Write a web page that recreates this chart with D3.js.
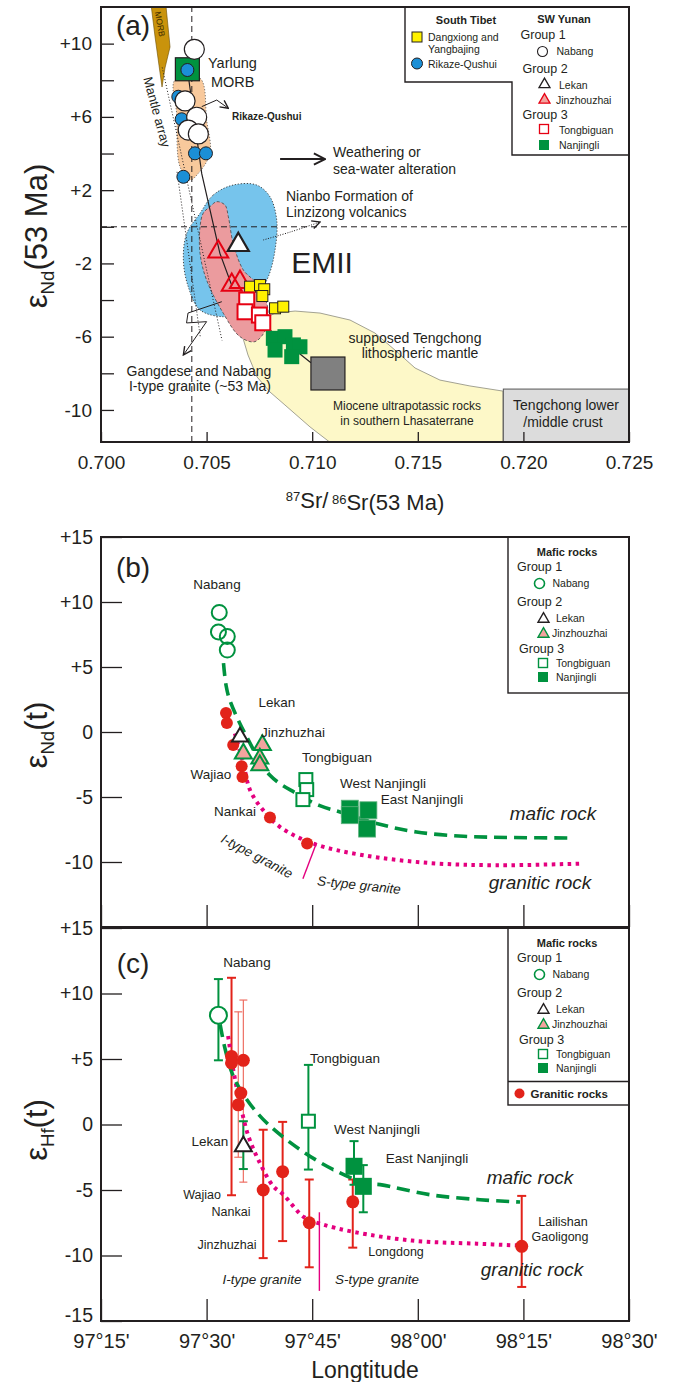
<!DOCTYPE html>
<html>
<head>
<meta charset="utf-8">
<script src="https://cdn.jsdelivr.net/npm/d3@7"></script>
<style>
  body { margin: 0; background: #fff; }
  svg { display: block; }
  text { font-family: "Liberation Sans", Arial, Helvetica, sans-serif; }
</style>
</head>
<body>
<svg id="chart"></svg>
<script>
// ================= Panel (a): eNd vs 87Sr/86Sr at 53 Ma =================
const srTicks = [0.700, 0.705, 0.710, 0.715, 0.720, 0.725];
const ndTicksA = [-10, -8, -6, -4, -2, 0, 2, 4, 6, 8, 10];
const ndLabelledA = [-10, -6, -2, 2, 6, 10];

// sample groups  [87Sr/86Sr, eNd]
const yarlungMorb = [[0.70409, 8.6]];
const rikazeQushui = [[0.70409, 8.56], [0.70366, 7.10], [0.70382, 5.87], [0.70445, 4.01], [0.70497, 4.01], [0.70390, 2.73]];
const nabangA = [[0.70442, 9.69], [0.70398, 6.87], [0.70453, 5.98], [0.70413, 5.28], [0.70461, 5.07]];
const jinzhouzhaiA = [[0.70555, -1.36], [0.70619, -3.18], [0.70658, -3.02]];
const lekanA = [[0.70650, -0.99]];
const dangxiongA = [[0.70706, -3.27], [0.70753, -3.18], [0.70773, -3.41], [0.70764, -3.78], [0.70824, -4.45], [0.70863, -4.36]];
const tongbiguanA = [[0.70690, -4.00], [0.70682, -4.64], [0.70750, -4.82], [0.70766, -5.24]];
const nanjingliA = [[0.70816, -6.09], [0.70871, -6.00], [0.70911, -6.45], [0.70942, -6.55], [0.70824, -6.73], [0.70903, -7.09]];

// reference fields  [87Sr/86Sr, eNd]
const morbField = [[0.70232, 12.6], [0.70303, 12.6], [0.70327, 9.82], [0.70303, 8.67], [0.70289, 7.63], [0.70279, 8.45], [0.70256, 10.36]];
const rikazeField = [[0.70350, 8.01], [0.70469, 8.11], [0.70500, 5.83], [0.70516, 4.01], [0.70461, 2.92], [0.70421, 2.55], [0.70374, 3.28], [0.70358, 6.20]];
const emiiField = [[0.70469, 0.74], [0.70532, 1.74], [0.70626, 2.28], [0.70737, 2.28], [0.70800, 1.64], [0.70832, 0.37], [0.70824, -1.27], [0.70792, -2.73], [0.70737, -3.82], [0.70658, -4.72], [0.70579, -4.91], [0.70469, -4.54], [0.70413, -3.27], [0.70390, -1.81], [0.70406, -0.36]];
const gangdeseField = [[0.70516, 1.10], [0.70548, 1.37], [0.70587, 1.19], [0.70603, 0.55], [0.70626, -0.90], [0.70674, -2.36], [0.70737, -3.09], [0.70785, -4.18], [0.70785, -5.46], [0.70729, -6.27], [0.70658, -6.00], [0.70579, -4.72], [0.70500, -2.91], [0.70469, -1.45], [0.70469, 0.00], [0.70484, 0.74]];
const mioceneField = [[0.70672, -6.07], [0.70696, -7.00], [0.70739, -8.20], [0.70800, -9.02], [0.70871, -9.73], [0.70990, -10.93], [0.71099, -11.9], [0.71903, -11.9], [0.71903, -8.97], [0.71747, -8.69], [0.71605, -8.37], [0.71487, -7.71], [0.71392, -6.73], [0.71297, -5.80], [0.71179, -5.09], [0.71037, -4.71], [0.70919, -4.60], [0.70824, -4.71], [0.70762, -5.09], [0.70706, -5.53]];
const lithMantleBox = [0.70994, 0.71155, -8.91, -7.11];   // Sr min, Sr max, Nd min, Nd max
const crustBox = [0.71905, 0.72500, -11.75, -8.86];

// guide lines
const mantleArrayL = [[0.70290, 8.7], [0.70573, -6.2]];
const mantleArrayR = [[0.70360, 3.0], [0.70470, -6.0]];
const mixingLine = [[0.70409, 8.6], [0.70477, 2.9], [0.70563, -1.45], [0.70619, -3.2]];
const tieLine = [[0.70800, -5.64], [0.70994, -7.42]];
const bulkEarthNd = 0;
const bulkEarthSr = 0.7043;

// annotation arrows
const weatheringArrow = [[0.70848, 3.70], [0.71061, 3.70]];
const rikazeArrow = [[0.70477, 6.56], [0.70548, 6.92], [0.70603, 6.47]];
const nianboArrow = [[0.70768, -0.72], [0.70895, -0.29], [0.71037, 0.26]];
const gangdeseArrow = [[0.70572, -4.09], [0.70412, -4.71], [0.70405, -5.25], [0.70500, -5.18], [0.70390, -7.0]];

// ================= Panels (b) and (c): isotopes vs longitude =================
const lonTicks = [97.25, 97.5, 97.75, 98.0, 98.25, 98.5];
const lonTickLabels = ["97°15'", "97°30'", "97°45'", "98°00'", "98°15'", "98°30'"];
const epsTicks = [-15, -10, -5, 0, 5, 10, 15];
const epsLabelsB = ["", "-10", "-5", "0", "+5", "+10", "+15"];
const epsLabelsC = ["-15", "-10", "-5", "0", "+5", "+10", "+15"];

// (b) eNd(t)  [longitude, eNd]
const nabangB = [[97.530, 9.2], [97.528, 7.7], [97.549, 7.35], [97.549, 6.3]];
const lekanB = [[97.579, -0.38]];
const jinzhuzhaiB = [[97.587, -1.66], [97.632, -1.0], [97.626, -2.05], [97.626, -2.56]];
const tongbiguanB = [[97.735, -3.66], [97.737, -4.43], [97.728, -5.2]];
const nanjingliB = [[97.839, -5.9], [97.839, -6.4], [97.883, -6.02], [97.880, -7.43]];
const graniteB = [[97.546, 1.46], [97.548, 0.69], [97.563, -1.0], [97.583, -2.64], [97.585, -3.46], [97.650, -6.58], [97.738, -8.58]];
const maficTrendB = [[97.540, 5.3], [97.546, 3.6], [97.555, 2.44], [97.595, -0.38], [97.650, -3.33], [97.713, -4.74], [97.768, -5.67], [97.816, -6.15], [97.910, -7.1], [97.997, -7.69], [98.108, -8.02], [98.226, -8.12], [98.368, -8.15]];
const graniticTrendB = [[97.567, -0.12], [97.587, -2.43], [97.603, -4.48], [97.634, -6.02], [97.674, -7.31], [97.753, -8.59], [97.871, -9.48], [98.029, -10.08], [98.187, -10.25], [98.388, -10.12]];
const isBoundaryB = [[97.759, -8.64], [97.728, -11.28]];

// (c) eHf(t)  [longitude, eHf, low, high]
const nabangC = [[97.528, 8.34, 4.9, 11.1]];
const lekanC = [[97.587, -1.66, -3.4, 0.25]];
const tongbiguanC = [[97.741, 0.25, -3.44, 4.55]];
const nanjingliC = [[97.849, -3.19, -4.6, -1.27], [97.871, -4.72, -6.7, -3.1]];
const graniteC = [[97.559, 5.2], [97.559, 4.7], [97.587, 4.9], [97.581, 2.4], [97.575, 1.5], [97.634, -5.0], [97.680, -3.6], [97.743, -7.5], [97.846, -5.9], [98.246, -9.3]];
const graniteErrMain = [[97.559, -5.4, 11.2], [97.634, -10.2, -0.4], [97.680, -8.9, 0.2], [97.743, -10.9, -4.2], [97.846, -9.4, -4.2], [98.246, -12.4, -5.45]];
const graniteErrMinor = [[97.587, -4.4, 9.5], [97.575, -2.5, 8.6]];
const maficTrendC = [[97.532, 7.65], [97.544, 5.74], [97.563, 3.7], [97.595, 1.91], [97.642, 0.13], [97.721, -1.91], [97.800, -3.44], [97.879, -4.51], [97.911, -4.59], [98.029, -5.36], [98.147, -5.74], [98.242, -5.92]];
const graniticTrendC = [[97.551, 6.76], [97.563, 4.2], [97.579, 1.66], [97.599, -0.89], [97.626, -2.93], [97.658, -4.72], [97.680, -5.3], [97.731, -7.08], [97.772, -7.6], [97.848, -8.2], [97.986, -8.86], [98.140, -9.1], [98.242, -9.24]];
const isBoundaryC = [[97.767, -6.7], [97.767, -12.7]];

// ================= drawing =================
const W = 678, H = 1382;
const COL = {
  ink: "#231f20", green: "#00923f", red: "#e2231a", redLight: "#ee6f63", magenta: "#e4007f",
  pinkFill: "#f3a39e", yellow: "#fff200", blue: "#1b8fd6", morb: "#c9930c",
  orange: "#f8c99c", emii: "#76c4ec", gangdese: "#eb9b9e", miocene: "#fdf8c8",
  grey: "#808080", crust: "#dcdcdc"
};
const svg = d3.select("#chart").attr("width", W).attr("height", H);
const defs = svg.append("defs");

function chevron(id, color, size) {
  defs.append("marker").attr("id", id).attr("viewBox", "0 0 10 10")
    .attr("refX", 9).attr("refY", 5).attr("markerWidth", size).attr("markerHeight", size)
    .attr("markerUnits", "userSpaceOnUse").attr("orient", "auto")
    .append("path").attr("d", "M1,1 L9,5 L1,9").attr("fill", "none")
    .attr("stroke", color).attr("stroke-width", 1.4);
}
chevron("chevBig", COL.ink, 14);
chevron("chevSmall", COL.ink, 10);

function addText(g, x, y, str, o = {}) {
  const t = g.append("text").attr("x", x).attr("y", y).attr("dy", "0.35em")
    .attr("font-size", o.size || 13.5).attr("text-anchor", o.anchor || "middle")
    .attr("fill", o.fill || COL.ink).text(str);
  if (o.weight) t.attr("font-weight", o.weight);
  if (o.italic) t.attr("font-style", "italic");
  if (o.rotate) t.attr("transform", `rotate(${o.rotate},${x},${y})`);
  return t;
}
function triPath(cx, cy, s) {
  const h = s * Math.sqrt(3) / 2;
  return `M${cx},${cy - h * 2 / 3}L${cx + s / 2},${cy + h / 3}L${cx - s / 2},${cy + h / 3}Z`;
}
function epsTitle(g, cx, cy, sub, rest, size) {
  const t = g.append("text").attr("transform", `translate(${cx},${cy}) rotate(-90)`)
    .attr("text-anchor", "middle").attr("dy", "0.35em").attr("font-size", size).attr("fill", COL.ink);
  t.append("tspan").text("ε");
  t.append("tspan").attr("font-size", size * 0.6).attr("dy", size * 0.22).text(sub);
  t.append("tspan").attr("dy", -size * 0.22).text(rest);
}

// ---------- panel (a) ----------
const xA = d3.scaleLinear().domain([0.700, 0.725]).range([101, 629]);
const yA = d3.scaleLinear().domain([-11.75, 12]).range([442, 7]);
const gA = svg.append("g");
defs.append("clipPath").attr("id", "clipA").append("rect")
  .attr("x", xA.range()[0]).attr("y", yA.range()[1])
  .attr("width", xA.range()[1] - xA.range()[0]).attr("height", yA.range()[0] - yA.range()[1]);
const fA = gA.append("g").attr("clip-path", "url(#clipA)");
const linA = d3.line().x(d => xA(d[0])).y(d => yA(d[1]));
const smoothA = d3.line().x(d => xA(d[0])).y(d => yA(d[1])).curve(d3.curveCatmullRomClosed.alpha(0.5));
const openA = d3.line().x(d => xA(d[0])).y(d => yA(d[1])).curve(d3.curveCatmullRom.alpha(0.5));

fA.append("path").attr("d", linA(mioceneField) + "Z").attr("fill", COL.miocene).attr("stroke", "#8c8c7e").attr("stroke-width", 0.8);
fA.append("rect").attr("x", xA(crustBox[0])).attr("y", yA(crustBox[3]))
  .attr("width", xA(crustBox[1]) - xA(crustBox[0])).attr("height", yA(crustBox[2]) - yA(crustBox[3]))
  .attr("fill", COL.crust).attr("stroke", "#555").attr("stroke-width", 1);
fA.append("path").attr("d", smoothA(emiiField)).attr("fill", COL.emii).attr("stroke", "#333").attr("stroke-width", 0.9).attr("stroke-dasharray", "1.2,1.8");
fA.append("path").attr("d", smoothA(gangdeseField)).attr("fill", COL.gangdese).attr("stroke", "#444").attr("stroke-width", 0.8).attr("stroke-dasharray", "3,2");
fA.append("path").attr("d", smoothA(rikazeField)).attr("fill", COL.orange).attr("stroke", "#555").attr("stroke-width", 0.8).attr("stroke-dasharray", "1.2,1.8");
fA.append("path").attr("d", linA(morbField) + "Z").attr("fill", COL.morb).attr("stroke", "#6b4e00").attr("stroke-width", 0.6);

// reference lines
fA.append("line").attr("x1", xA.range()[0]).attr("x2", xA.range()[1]).attr("y1", yA(bulkEarthNd)).attr("y2", yA(bulkEarthNd))
  .attr("stroke", COL.ink).attr("stroke-width", 1).attr("stroke-dasharray", "6,4");
fA.append("line").attr("x1", xA(bulkEarthSr)).attr("x2", xA(bulkEarthSr)).attr("y1", yA.range()[0]).attr("y2", yA.range()[1])
  .attr("stroke", COL.ink).attr("stroke-width", 1).attr("stroke-dasharray", "6,4");
[mantleArrayL, mantleArrayR].forEach(l => fA.append("path").attr("d", linA(l)).attr("fill", "none")
  .attr("stroke", COL.ink).attr("stroke-width", 1).attr("stroke-dasharray", "1,2"));
fA.append("path").attr("d", linA(mixingLine)).attr("fill", "none").attr("stroke", COL.ink).attr("stroke-width", 1.2);
fA.append("path").attr("d", linA(tieLine)).attr("fill", "none").attr("stroke", COL.ink).attr("stroke-width", 1.2);

// grey lithospheric mantle square
fA.append("rect").attr("x", xA(lithMantleBox[0])).attr("y", yA(lithMantleBox[3]))
  .attr("width", xA(lithMantleBox[1]) - xA(lithMantleBox[0])).attr("height", yA(lithMantleBox[2]) - yA(lithMantleBox[3]))
  .attr("fill", COL.grey).attr("stroke", COL.ink).attr("stroke-width", 1.2);

// arrows
gA.append("path").attr("d", linA(weatheringArrow)).attr("fill", "none").attr("stroke", COL.ink).attr("stroke-width", 2).attr("marker-end", "url(#chevBig)");
gA.append("path").attr("d", linA(rikazeArrow)).attr("fill", "none").attr("stroke", COL.ink).attr("stroke-width", 1).attr("marker-end", "url(#chevSmall)");
gA.append("path").attr("d", openA(nianboArrow)).attr("fill", "none").attr("stroke", COL.ink).attr("stroke-width", 1).attr("stroke-dasharray", "1,1.5").attr("marker-end", "url(#chevSmall)");
gA.append("path").attr("d", linA(gangdeseArrow)).attr("fill", "none").attr("stroke", COL.ink).attr("stroke-width", 1).attr("marker-end", "url(#chevSmall)");

// samples
const pA = gA.append("g");
pA.selectAll(".ym").data(yarlungMorb).join("rect")
  .attr("x", d => xA(d[0]) - 12).attr("y", d => yA(d[1]) - 11.5).attr("width", 24).attr("height", 23)
  .attr("fill", COL.green).attr("stroke", COL.ink).attr("stroke-width", 1.2);
pA.selectAll(".rq").data(rikazeQushui).join("circle")
  .attr("cx", d => xA(d[0])).attr("cy", d => yA(d[1])).attr("r", 6.5)
  .attr("fill", COL.blue).attr("stroke", COL.ink).attr("stroke-width", 1);
pA.selectAll(".nb").data(nabangA).join("circle")
  .attr("cx", d => xA(d[0])).attr("cy", d => yA(d[1])).attr("r", 10)
  .attr("fill", "#fff").attr("stroke", COL.ink).attr("stroke-width", 1.2);
pA.selectAll(".jz").data(jinzhouzhaiA).join("path")
  .attr("d", d => triPath(xA(d[0]), yA(d[1]), 20)).attr("fill", "none").attr("stroke", "#e60012").attr("stroke-width", 2);
pA.selectAll(".lk").data(lekanA).join("path")
  .attr("d", d => triPath(xA(d[0]), yA(d[1]), 21)).attr("fill", "#fff").attr("stroke", COL.ink).attr("stroke-width", 2.2);
pA.selectAll(".dx").data(dangxiongA).join("rect")
  .attr("x", d => xA(d[0]) - 5.5).attr("y", d => yA(d[1]) - 5.5).attr("width", 11).attr("height", 11)
  .attr("fill", COL.yellow).attr("stroke", COL.ink).attr("stroke-width", 1);
pA.selectAll(".tb").data(tongbiguanA).join("rect")
  .attr("x", d => xA(d[0]) - 7.5).attr("y", d => yA(d[1]) - 7.5).attr("width", 15).attr("height", 15)
  .attr("fill", "#fff").attr("stroke", "#e60012").attr("stroke-width", 2);
pA.selectAll(".nj").data(nanjingliA).join("rect")
  .attr("x", d => xA(d[0]) - 7.5).attr("y", d => yA(d[1]) - 7.5).attr("width", 15).attr("height", 15)
  .attr("fill", COL.green);

// annotations
addText(gA, 133, 25, "(a)", { size: 28 });
addText(gA, 160, 24, "MORB", { size: 8.5, rotate: 80, fill: "#3a2a00" });
addText(gA, 157, 112, "Mantle array", { size: 13, rotate: 75 });
addText(gA, 208, 63, "Yarlung", { size: 14.5, anchor: "start" });
addText(gA, 211, 82, "MORB", { size: 14.5, anchor: "start" });
addText(gA, 232, 116, "Rikaze-Qushui", { size: 10, anchor: "start", weight: "bold" });
addText(gA, 333, 152, "Weathering or", { size: 14, anchor: "start" });
addText(gA, 333, 169, "sea-water alteration", { size: 14, anchor: "start" });
addText(gA, 286, 196, "Nianbo Formation of", { size: 14, anchor: "start" });
addText(gA, 286, 212, "Linzizong volcanics", { size: 14, anchor: "start" });
addText(gA, 322, 262, "EMII", { size: 30 });
addText(gA, 199, 371, "Gangdese and Nabang", { size: 14 });
addText(gA, 200, 386, "I-type granite (~53 Ma)", { size: 14 });
addText(gA, 415, 338, "supposed Tengchong", { size: 14 });
addText(gA, 420, 353, "lithospheric mantle", { size: 14 });
addText(gA, 407, 406, "Miocene ultrapotassic rocks", { size: 12 });
addText(gA, 407, 421, "in southern Lhasaterrane", { size: 12 });
addText(gA, 566, 405, "Tengchong lower", { size: 14 });
addText(gA, 563, 422, "/middle crust", { size: 14 });

// legend (a)
const lgA = gA.append("g");
lgA.append("path").attr("d", "M405,7V82H512V155H629").attr("fill", "#fff").attr("stroke", COL.ink).attr("stroke-width", 1.4);
addText(lgA, 466, 20, "South Tibet", { size: 11, weight: "bold" });
lgA.append("rect").attr("x", 412).attr("y", 32).attr("width", 10).attr("height", 10).attr("fill", COL.yellow).attr("stroke", COL.ink);
addText(lgA, 428, 37, "Dangxiong and", { size: 10.5, anchor: "start" });
addText(lgA, 428, 49.5, "Yangbajing", { size: 10.5, anchor: "start" });
lgA.append("circle").attr("cx", 417).attr("cy", 63.5).attr("r", 5.5).attr("fill", COL.blue).attr("stroke", COL.ink);
addText(lgA, 428, 64.5, "Rikaze-Qushui", { size: 10.5, anchor: "start" });
addText(lgA, 564, 19, "SW Yunan", { size: 11, weight: "bold" });
addText(lgA, 520.5, 35, "Group 1", { size: 12.5, anchor: "start" });
lgA.append("circle").attr("cx", 542.5).attr("cy", 51.5).attr("r", 5).attr("fill", "#fff").attr("stroke", COL.ink).attr("stroke-width", 1.1);
addText(lgA, 556.5, 51.5, "Nabang", { size: 10.5, anchor: "start" });
addText(lgA, 522.5, 69, "Group 2", { size: 12.5, anchor: "start" });
lgA.append("path").attr("d", triPath(544.5, 84.5, 11)).attr("fill", "#fff").attr("stroke", COL.ink).attr("stroke-width", 1.3);
addText(lgA, 559, 85, "Lekan", { size: 10.5, anchor: "start" });
lgA.append("path").attr("d", triPath(544.5, 100, 11)).attr("fill", COL.pinkFill).attr("stroke", "#e60012").attr("stroke-width", 1.3);
addText(lgA, 556, 100, "Jinzhouzhai", { size: 10.5, anchor: "start" });
addText(lgA, 522.5, 115, "Group 3", { size: 12.5, anchor: "start" });
lgA.append("rect").attr("x", 539.5).attr("y", 124.5).attr("width", 9).attr("height", 9).attr("fill", "#fff").attr("stroke", "#e60012").attr("stroke-width", 1.3);
addText(lgA, 559, 130, "Tongbiguan", { size: 10.5, anchor: "start" });
lgA.append("rect").attr("x", 539).attr("y", 140).attr("width", 10).attr("height", 10).attr("fill", COL.green);
addText(lgA, 559, 145, "Nanjingli", { size: 10.5, anchor: "start" });

// axes (a)
const axLeftA = d3.axisLeft(yA).tickValues(ndTicksA).tickSizeInner(-13).tickSizeOuter(0).tickPadding(9)
  .tickFormat(d => ndLabelledA.includes(d) ? (d > 0 ? "+" + d : String(d)) : "");
const axBotA = d3.axisBottom(xA).tickValues(srTicks).tickSizeInner(-10).tickSizeOuter(0).tickPadding(14)
  .tickFormat(d3.format(".3f"));
function styleAxis(g, size) {
  g.select(".domain").remove();
  g.selectAll(".tick line").attr("stroke", COL.ink).attr("stroke-width", 1.3);
  g.selectAll(".tick text").attr("font-size", size).attr("fill", COL.ink)
    .attr("font-family", '"Liberation Sans", Arial, sans-serif');
}
gA.append("g").attr("transform", `translate(${xA.range()[0]},0)`).call(axLeftA).call(g => styleAxis(g, 19));
gA.append("g").attr("transform", `translate(0,${yA.range()[0]})`).call(axBotA).call(g => styleAxis(g, 19));
gA.append("rect").attr("x", xA.range()[0]).attr("y", yA.range()[1])
  .attr("width", xA.range()[1] - xA.range()[0]).attr("height", yA.range()[0] - yA.range()[1])
  .attr("fill", "none").attr("stroke", COL.ink).attr("stroke-width", 2);
epsTitle(gA, 36, 236, "Nd", "(53 Ma)", 31);
{
  const t = gA.append("text").attr("x", 365).attr("y", 505).attr("dy", "0.35em").attr("text-anchor", "middle")
    .attr("font-size", 22).attr("fill", COL.ink);
  t.append("tspan").attr("font-size", 13).attr("dy", "-0.3em").text("87");
  t.append("tspan").attr("dy", "0.3em").text("Sr/");
  t.append("tspan").attr("font-size", 13).attr("dy", "-0.3em").text(" 86");
  t.append("tspan").attr("dy", "0.3em").text("Sr(53 Ma)");
}

// ---------- panels (b) and (c) ----------
const xL = d3.scaleLinear().domain([97.25, 98.5]).range([101, 629]);
const yB = d3.scaleLinear().domain([-15, 15]).range([927, 537]);
const yC = d3.scaleLinear().domain([-15, 15]).range([1321, 928]);

function lonPanel(y, labels, showX) {
  const g = svg.append("g");
  const axL = d3.axisLeft(y).tickValues(epsTicks).tickSizeInner(-21).tickSizeOuter(0).tickPadding(8)
    .tickFormat((d, i) => labels[i]);
  const left = g.append("g").attr("transform", `translate(${xL.range()[0]},0)`).call(axL).call(a => styleAxis(a, 19.5));
  // lift the bottom-most value label clear of the longitude labels
  left.selectAll(".tick text").filter(d => d === -15).attr("dy", "0.05em");
  const axB = d3.axisBottom(xL).tickValues(lonTicks).tickSizeInner(-22).tickSizeOuter(0).tickPadding(13)
    .tickFormat((d, i) => showX ? lonTickLabels[i] : "");
  g.append("g").attr("transform", `translate(0,${y.range()[0]})`).call(axB).call(a => styleAxis(a, 20));
  return g;
}
function frame(g, y) {
  g.append("rect").attr("x", xL.range()[0]).attr("y", y.range()[1])
    .attr("width", xL.range()[1] - xL.range()[0]).attr("height", y.range()[0] - y.range()[1])
    .attr("fill", "none").attr("stroke", COL.ink).attr("stroke-width", 2);
}
function trend(g, y, data, color, dash, width) {
  const line = d3.line().x(d => xL(d[0])).y(d => y(d[1])).curve(d3.curveCatmullRom.alpha(0.5));
  g.append("path").attr("d", line(data)).attr("fill", "none").attr("stroke", color)
    .attr("stroke-width", width).attr("stroke-dasharray", dash);
}
function mafLegend(g, top, bottom, withGranite) {
  const L = g.append("g");
  L.append("rect").attr("x", 508).attr("y", top).attr("width", 629 - 508).attr("height", bottom - top)
    .attr("fill", "#fff").attr("stroke", COL.ink).attr("stroke-width", 1.4);
  const o = top;
  addText(L, 567, o + 15.5, "Mafic rocks", { size: 11, weight: "bold" });
  addText(L, 517, o + 30, "Group 1", { size: 12.5, anchor: "start" });
  L.append("circle").attr("cx", 539.5).attr("cy", o + 46.5).attr("r", 5).attr("fill", "none").attr("stroke", COL.green).attr("stroke-width", 1.6);
  addText(L, 552.5, o + 46.5, "Nabang", { size: 10.5, anchor: "start" });
  addText(L, 517, o + 64.5, "Group 2", { size: 12.5, anchor: "start" });
  L.append("path").attr("d", triPath(543.5, o + 82, 11)).attr("fill", "#fff").attr("stroke", COL.ink).attr("stroke-width", 1.4);
  addText(L, 556, o + 81.5, "Lekan", { size: 10.5, anchor: "start" });
  L.append("path").attr("d", triPath(543.5, o + 97, 11)).attr("fill", COL.pinkFill).attr("stroke", COL.green).attr("stroke-width", 1.4);
  addText(L, 552, o + 96.5, "Jinzhouzhai", { size: 10.5, anchor: "start" });
  addText(L, 519, o + 112, "Group 3", { size: 12.5, anchor: "start" });
  L.append("rect").attr("x", 538.5).attr("y", o + 121.5).attr("width", 9).attr("height", 9).attr("fill", "#fff").attr("stroke", COL.green).attr("stroke-width", 1.4);
  addText(L, 556, o + 126.5, "Tongbiguan", { size: 10.5, anchor: "start" });
  L.append("rect").attr("x", 538).attr("y", o + 135).attr("width", 10).attr("height", 10).attr("fill", COL.green);
  addText(L, 556, o + 140, "Nanjingli", { size: 10.5, anchor: "start" });
  if (withGranite) {
    L.append("line").attr("x1", 508).attr("x2", 629).attr("y1", o + 153.5).attr("y2", o + 153.5).attr("stroke", COL.ink).attr("stroke-width", 1.4);
    L.append("circle").attr("cx", 519.5).attr("cy", o + 165.5).attr("r", 5).attr("fill", COL.red);
    addText(L, 530.5, o + 165.5, "Granitic rocks", { size: 11.5, anchor: "start", weight: "bold" });
  }
}

// ----- panel (b) -----
const gB = lonPanel(yB, epsLabelsB, false);
trend(gB, yB, graniticTrendB, COL.magenta, "3.5,4.5", 4);
trend(gB, yB, maficTrendB, COL.green, "13,7", 3.6);
gB.append("path").attr("d", d3.line().x(d => xL(d[0])).y(d => yB(d[1]))(isBoundaryB))
  .attr("stroke", COL.magenta).attr("stroke-width", 1.4).attr("fill", "none");
gB.selectAll(".gr").data(graniteB).join("circle")
  .attr("cx", d => xL(d[0])).attr("cy", d => yB(d[1])).attr("r", 6).attr("fill", COL.red);
gB.selectAll(".nb").data(nabangB).join("circle")
  .attr("cx", d => xL(d[0])).attr("cy", d => yB(d[1])).attr("r", 7.5)
  .attr("fill", "#fff").attr("fill-opacity", 0.0).attr("stroke", COL.green).attr("stroke-width", 2);
gB.selectAll(".jz").data(jinzhuzhaiB).join("path")
  .attr("d", d => triPath(xL(d[0]), yB(d[1]), 17)).attr("fill", COL.pinkFill).attr("stroke", COL.green).attr("stroke-width", 2);
gB.selectAll(".lk").data(lekanB).join("path")
  .attr("d", d => triPath(xL(d[0]), yB(d[1]), 16)).attr("fill", "#fff").attr("stroke", COL.ink).attr("stroke-width", 2);
gB.selectAll(".tb").data(tongbiguanB).join("rect")
  .attr("x", d => xL(d[0]) - 6.5).attr("y", d => yB(d[1]) - 6.5).attr("width", 13).attr("height", 13)
  .attr("fill", "#fff").attr("stroke", COL.green).attr("stroke-width", 2);
gB.selectAll(".nj").data(nanjingliB).join("rect")
  .attr("x", d => xL(d[0]) - 8.5).attr("y", d => yB(d[1]) - 8.5).attr("width", 17).attr("height", 17)
  .attr("fill", COL.green).attr("stroke", "#5fb37f").attr("stroke-width", 0.8);
addText(gB, 133, 567, "(b)", { size: 28 });
addText(gB, 217, 584, "Nabang");
addText(gB, 277, 702, "Lekan");
addText(gB, 293, 732, "Jinzhuzhai");
addText(gB, 211, 774, "Wajiao");
addText(gB, 337, 757, "Tongbiguan");
addText(gB, 235, 811, "Nankai");
addText(gB, 383, 783, "West Nanjingli");
addText(gB, 422, 799, "East Nanjingli");
addText(gB, 553, 813, "mafic rock", { size: 19, italic: true });
addText(gB, 540, 882, "granitic rock", { size: 19, italic: true });
addText(gB, 257, 856, "I-type granite", { size: 13.5, italic: true, rotate: 28 });
addText(gB, 359, 885, "S-type granite", { size: 13.5, italic: true, rotate: 6 });
mafLegend(gB, 537, 693, false);
frame(gB, yB);
epsTitle(gB, 36, 735, "Nd", "(t)", 31);

// ----- panel (c) -----
const gC = lonPanel(yC, epsLabelsC, true);
function errBars(g, data, color, width, cap) {
  const e = g.append("g").attr("stroke", color).attr("stroke-width", width).attr("fill", "none");
  data.forEach(d => {
    const x = xL(d[0]), lo = yC(d[d.length - 2]), hi = yC(d[d.length - 1]);
    e.append("line").attr("x1", x).attr("x2", x).attr("y1", lo).attr("y2", hi);
    e.append("line").attr("x1", x - cap).attr("x2", x + cap).attr("y1", lo).attr("y2", lo);
    e.append("line").attr("x1", x - cap).attr("x2", x + cap).attr("y1", hi).attr("y2", hi);
  });
}
errBars(gC, graniteErrMinor, COL.redLight, 1.2, 4);
errBars(gC, graniteErrMain, COL.red, 2, 4.5);
errBars(gC, [...nabangC, ...lekanC, ...tongbiguanC, ...nanjingliC].map(d => [d[0], d[2], d[3]]), COL.green, 2, 4.5);
trend(gC, yC, graniticTrendC, COL.magenta, "3.5,4.5", 4);
trend(gC, yC, maficTrendC, COL.green, "13,7", 3.6);
gC.append("path").attr("d", d3.line().x(d => xL(d[0])).y(d => yC(d[1]))(isBoundaryC))
  .attr("stroke", COL.magenta).attr("stroke-width", 1.4).attr("fill", "none");
gC.selectAll(".gr").data(graniteC).join("circle")
  .attr("cx", d => xL(d[0])).attr("cy", d => yC(d[1])).attr("r", 6.5).attr("fill", COL.red);
gC.selectAll(".nb").data(nabangC).join("circle")
  .attr("cx", d => xL(d[0])).attr("cy", d => yC(d[1])).attr("r", 8.5)
  .attr("fill", "#fff").attr("stroke", COL.green).attr("stroke-width", 2);
gC.selectAll(".lk").data(lekanC).join("path")
  .attr("d", d => triPath(xL(d[0]), yC(d[1]), 17)).attr("fill", "#fff").attr("stroke", COL.ink).attr("stroke-width", 2);
gC.selectAll(".tb").data(tongbiguanC).join("rect")
  .attr("x", d => xL(d[0]) - 6.5).attr("y", d => yC(d[1]) - 6.5).attr("width", 13).attr("height", 13)
  .attr("fill", "#fff").attr("stroke", COL.green).attr("stroke-width", 2);
gC.selectAll(".nj").data(nanjingliC).join("rect")
  .attr("x", d => xL(d[0]) - 8.5).attr("y", d => yC(d[1]) - 8.5).attr("width", 17).attr("height", 17)
  .attr("fill", COL.green);
addText(gC, 133, 963, "(c)", { size: 28 });
addText(gC, 247, 962, "Nabang");
addText(gC, 345, 1058, "Tongbiguan");
addText(gC, 210, 1141, "Lekan");
addText(gC, 377, 1129, "West Nanjingli");
addText(gC, 427, 1158, "East Nanjingli");
addText(gC, 530, 1177, "mafic rock", { size: 19, italic: true });
addText(gC, 202, 1195, "Wajiao", { size: 12.5 });
addText(gC, 231, 1212, "Nankai", { size: 12.5 });
addText(gC, 227, 1245, "Jinzhuzhai", { size: 12.5 });
addText(gC, 396, 1252, "Longdong", { size: 12.5 });
addText(gC, 563, 1222, "Lailishan", { size: 12.5 });
addText(gC, 560, 1237, "Gaoligong", { size: 12.5 });
addText(gC, 532, 1269, "granitic rock", { size: 19, italic: true });
addText(gC, 262, 1279, "I-type granite", { size: 13.5, italic: true });
addText(gC, 377, 1279, "S-type granite", { size: 13.5, italic: true });
mafLegend(gC, 928, 1105, true);
frame(gC, yC);
epsTitle(gC, 36, 1130, "Hf", "(t)", 31);
addText(gC, 365, 1370, "Longtitude", { size: 23 });
</script>
</body>
</html>
